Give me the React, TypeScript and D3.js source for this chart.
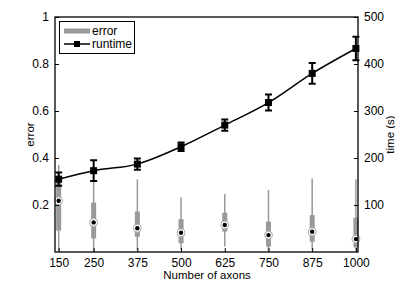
import React, { useRef, useEffect } from 'react'
import * as d3 from 'd3'

const axons = [150, 250, 375, 500, 625, 750, 875, 1000]
const runtime = [155, 173, 187, 224, 270, 318, 380, 433]
const runtimeErr = [14, 22, 12, 9, 12, 17, 22, 25]
// error box plots: whisker low, q1, median, q3, whisker high
const errLow = [0.005, 0.0, 0.008, 0.01, 0.023, 0.005, 0.008, 0.005]
const errQ1 = [0.091, 0.058, 0.065, 0.037, 0.087, 0.023, 0.044, 0.02]
const errMed = [0.218, 0.126, 0.101, 0.082, 0.115, 0.072, 0.086, 0.055]
const errQ3 = [0.32, 0.21, 0.172, 0.14, 0.167, 0.129, 0.157, 0.146]
const errHigh = [0.37, 0.3, 0.309, 0.233, 0.247, 0.264, 0.313, 0.31]
const leftTicks = [0.2, 0.4, 0.6, 0.8, 1]
const rightTicks = [100, 200, 300, 400, 500]

const App = () => {
    const ref = useRef<SVGSVGElement>(null)
    useEffect(() => {
        const w = 395
        const h = 290
        const m = { left: 55, top: 17, right: 358, bottom: 252 }
        const font = 'Liberation Sans, Arial, sans-serif'
        const svg = d3.select(ref.current)
        svg.selectAll('*').remove()
        svg.attr('width', w).attr('height', h).style('background', 'white')

        const x = d3.scaleLinear().domain([139.5, 1006]).range([m.left, m.right])
        const yL = d3.scaleLinear().domain([0, 1]).range([m.bottom, m.top])
        const yR = d3.scaleLinear().domain([0, 500]).range([m.bottom, m.top])

        // box plots for error
        const g = svg.append('g')
        axons.forEach((a, i) => {
            const cx = x(a)
            g.append('line')
                .attr('x1', cx).attr('x2', cx)
                .attr('y1', yL(errLow[i])).attr('y2', yL(errHigh[i]))
                .attr('stroke', '#999').attr('stroke-width', 1.5)
            g.append('rect')
                .attr('x', cx - 2.5).attr('width', 5)
                .attr('y', yL(errQ3[i])).attr('height', yL(errQ1[i]) - yL(errQ3[i]))
                .attr('fill', '#999')
            g.append('circle')
                .attr('cx', cx).attr('cy', yL(errMed[i])).attr('r', 4)
                .attr('fill', 'white').attr('stroke', '#aaa').attr('stroke-width', 1)
            g.append('circle')
                .attr('cx', cx).attr('cy', yL(errMed[i])).attr('r', 2.2)
                .attr('fill', 'black')
        })

        // runtime line
        const line = d3.line<number>()
            .x((d, i) => x(axons[i]))
            .y(d => yR(d))
            .curve(d3.curveMonotoneX)
        svg.append('path')
            .datum(runtime)
            .attr('d', line)
            .attr('fill', 'none')
            .attr('stroke', 'black')
            .attr('stroke-width', 1.5)

        axons.forEach((a, i) => {
            const cx = x(a)
            const t = yR(runtime[i] + runtimeErr[i])
            const b = yR(runtime[i] - runtimeErr[i])
            svg.append('path')
                .attr('d', `M${cx},${t}V${b}M${cx - 3.5},${t}H${cx + 3.5}M${cx - 3.5},${b}H${cx + 3.5}`)
                .attr('stroke', 'black').attr('stroke-width', 2).attr('fill', 'none')
            svg.append('rect')
                .attr('x', cx - 3.5).attr('y', yR(runtime[i]) - 3.5)
                .attr('width', 7).attr('height', 7).attr('fill', 'black')
        })

        // box frame
        svg.append('rect')
            .attr('x', m.left).attr('y', m.top)
            .attr('width', m.right - m.left).attr('height', m.bottom - m.top)
            .attr('fill', 'none').attr('stroke', 'black').attr('stroke-width', 1.3)

        // axes
        const axL = svg.append('g').attr('transform', `translate(${m.left},0)`)
            .call(d3.axisLeft(yL).tickValues(leftTicks).tickSize(-4).tickPadding(6).tickFormat(d3.format('~g')))
        const axR = svg.append('g').attr('transform', `translate(${m.right},0)`)
            .call(d3.axisRight(yR).tickValues(rightTicks).tickSize(-4).tickPadding(6))
        const axB = svg.append('g').attr('transform', `translate(0,${m.bottom})`)
            .call(d3.axisBottom(x).tickValues(axons).tickSize(-4).tickPadding(6).tickFormat(d3.format('d')))
        ;[axL, axR, axB].forEach(ax => {
            ax.select('.domain').remove()
            ax.selectAll('line').attr('stroke', 'black').attr('stroke-width', 1)
            ax.selectAll('text').style('font-family', font).style('font-size', '12px').attr('fill', 'black')
        })

        // axis labels
        svg.append('text')
            .attr('transform', `translate(34,${(m.top + m.bottom) / 2}) rotate(-90)`)
            .attr('text-anchor', 'middle')
            .style('font-family', font).style('font-size', '11.5px')
            .text('error')
        svg.append('text')
            .attr('transform', `translate(394,${(m.top + m.bottom) / 2}) rotate(-90)`)
            .attr('text-anchor', 'middle')
            .style('font-family', font).style('font-size', '11.5px')
            .text('time (s)')
        svg.append('text')
            .attr('x', 207).attr('y', 279)
            .attr('text-anchor', 'middle')
            .style('font-family', font).style('font-size', '11.5px')
            .text('Number of axons')

        // legend
        const lg = svg.append('g')
        lg.append('rect')
            .attr('x', 59.5).attr('y', 21.5).attr('width', 75).attr('height', 32)
            .attr('fill', 'white').attr('stroke', 'black').attr('stroke-width', 1)
        lg.append('line')
            .attr('x1', 64).attr('x2', 90).attr('y1', 31).attr('y2', 31)
            .attr('stroke', '#999').attr('stroke-width', 5)
        lg.append('line')
            .attr('x1', 64).attr('x2', 90).attr('y1', 44).attr('y2', 44)
            .attr('stroke', 'black').attr('stroke-width', 1.5)
        lg.append('rect')
            .attr('x', 74).attr('y', 41).attr('width', 6).attr('height', 6).attr('fill', 'black')
        lg.append('text').attr('x', 92).attr('y', 35)
            .style('font-family', font).style('font-size', '12px').text('error')
        lg.append('text').attr('x', 92).attr('y', 48)
            .style('font-family', font).style('font-size', '12px').text('runtime')
    }, [])
    return (
        <div>
            <svg ref={ref} style={{ position: 'absolute', left: 0, top: 0 }}></svg>
        </div>
    )
}

export default App
